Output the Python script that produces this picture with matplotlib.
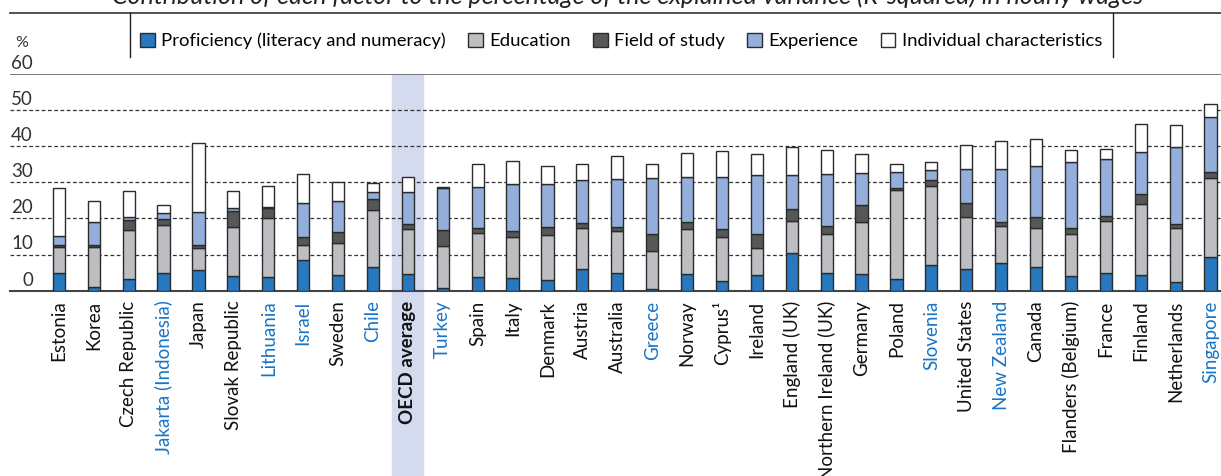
import numpy as np
import matplotlib
matplotlib.use("Agg")
import matplotlib.pyplot as plt
from matplotlib.lines import Line2D
from matplotlib.patches import Rectangle, Patch
import matplotlib.transforms as mtransforms

plt.rcParams['font.family'] = ['Lato', 'DejaVu Sans']

# data
countries = ["Estonia", "Korea", "Czech Republic", "Jakarta (Indonesia)", "Japan",
             "Slovak Republic", "Lithuania", "Israel", "Sweden", "Chile", "OECD average",
             "Turkey", "Spain", "Italy", "Denmark", "Austria", "Australia", "Greece",
             "Norway", "Cyprus¹", "Ireland", "England (UK)", "Northern Ireland (UK)",
             "Germany", "Poland", "Slovenia", "United States", "New Zealand", "Canada",
             "Flanders (Belgium)", "France", "Finland", "Netherlands", "Singapore"]
blue_labels = ["Jakarta (Indonesia)", "Lithuania", "Israel", "Chile", "Turkey", "Greece",
               "Slovenia", "New Zealand", "Singapore"]

proficiency = [4.8, 1.1, 3.2, 5.0, 5.6, 4.1, 3.9, 8.4, 4.3, 6.5, 4.5,
               0.8, 3.8, 3.4, 3.0, 5.9, 4.8, 0.6, 4.5, 2.7, 4.3, 10.4, 5.0,
               4.6, 3.2, 7.1, 6.0, 7.7, 6.5, 4.1, 5.0, 4.3, 2.5, 9.3]
education = [7.2, 11.1, 13.5, 13.2, 6.1, 13.6, 16.1, 4.2, 8.8, 15.8, 12.6,
             11.7, 12.1, 11.4, 12.3, 11.4, 11.6, 10.4, 12.5, 12.1, 7.4, 8.9, 10.8,
             14.4, 24.7, 21.9, 14.3, 10.3, 10.8, 11.6, 14.4, 19.8, 14.8, 22.0]
field_of_study = [0.6, 0.4, 2.9, 1.7, 0.9, 4.5, 3.0, 2.2, 3.1, 3.1, 1.5,
                  4.2, 1.4, 1.6, 2.2, 1.4, 1.1, 4.8, 2.0, 2.3, 3.9, 3.2, 2.2,
                  4.6, 0.4, 1.6, 4.0, 1.1, 3.0, 1.6, 1.4, 2.6, 1.2, 1.7]
experience = [2.5, 6.3, 0.7, 1.7, 9.1, 0.6, 0.2, 9.6, 8.5, 1.8, 8.7,
              11.6, 11.3, 13.1, 12.1, 11.9, 13.4, 15.3, 12.4, 14.5, 16.3, 9.5, 14.3,
              9.1, 4.6, 2.8, 9.3, 14.7, 14.2, 18.3, 15.7, 11.7, 21.2, 15.0]
individual = [13.2, 6.0, 7.2, 2.0, 19.3, 4.7, 5.9, 7.9, 5.5, 2.6, 4.3,
              0.3, 6.4, 6.4, 5.0, 4.4, 6.5, 3.9, 6.8, 7.2, 6.0, 7.7, 6.6,
              5.2, 2.2, 2.1, 6.8, 7.6, 7.4, 3.4, 2.7, 7.7, 6.3, 3.8]

series_names = ["Proficiency (literacy and numeracy)", "Education", "Field of study",
                "Experience", "Individual characteristics"]
series_colors = ["#2878c0", "#bdbec1", "#555759", "#94afdc", "#ffffff"]
yticks = [0, 10, 20, 30, 40, 50, 60]

W, H = 1221, 476
fig = plt.figure(figsize=(W / 100, H / 100), dpi=100)
ax = fig.add_axes([10 / W, (H - 290.7) / H, 1211 / W, 216.7 / H])

x = np.arange(len(countries))
bottom = np.zeros(len(countries))
for name, vals, col in zip(series_names,
                           [proficiency, education, field_of_study, experience, individual],
                           series_colors):
    ax.bar(x, vals, bottom=bottom, width=0.35, color=col, edgecolor="#2b2b2b",
           linewidth=1.0, zorder=3, label=name)
    bottom += np.array(vals)

ax.set_xlim(-1.40, 33.3)
ax.set_ylim(0, 60)

# OECD average highlight, runs down through the labels
oecd = countries.index("OECD average")
trans = mtransforms.blended_transform_factory(ax.transData, ax.transAxes)
ax.add_patch(Rectangle((oecd - 0.445, -0.86), 0.89, 1.86, transform=trans,
                       color="#d4dbef", zorder=0, clip_on=False))

# grid lines
for v in yticks[1:-1]:
    ax.axhline(v, color="#333333", lw=0.9, ls=(0, (3, 2)), zorder=1)
ax.axhline(60, color="#7a7a7a", lw=1.4, zorder=2)

for s in ["top", "left", "right"]:
    ax.spines[s].set_visible(False)
ax.spines["bottom"].set_color("#444444")
ax.spines["bottom"].set_linewidth(1.5)

# y labels sit on top of the grid lines
ax.set_yticks([])
ytrans = mtransforms.blended_transform_factory(ax.transAxes, ax.transData)
for v in yticks:
    ax.text(0.019, v + 0.6, str(v), transform=ytrans,
            ha="right", va="bottom", fontsize=13.5, color="#333333")

ax.set_xticks(x)
ax.set_xticklabels(countries, rotation=90, fontsize=13.5, va="top", ha="center")
ax.tick_params(axis="x", length=0, pad=7)
for lab in ax.get_xticklabels():
    t = lab.get_text()
    if t in blue_labels:
        lab.set_color("#1a74c4")
    elif t == "OECD average":
        lab.set_fontweight("bold")
        lab.set_color("#111111")
    else:
        lab.set_color("#111111")

# header: title, rule lines, legend box
fig.text(628 / W, 1 - 4 / H, "Contribution of each factor to the percentage of the explained "
         "variance (R-squared) in hourly wages", ha="center", va="baseline",
         fontsize=18, style="italic", color="#222222")
fig.add_artist(Line2D([10 / W, 1], [1 - 12.5 / H] * 2, color="#444444", lw=1.3))
for xp in [130, 1113]:
    fig.add_artist(Line2D([xp / W] * 2, [1 - 12.5 / H, 1 - 57 / H], color="#222222", lw=1.0))
fig.text(15 / W, 1 - 43 / H, "%", ha="left", va="center", fontsize=11.5, color="#333333")

handles = [Patch(facecolor=c, edgecolor="#2b2b2b", linewidth=1.0) for c in series_colors]
fig.legend(handles, series_names, loc="center", bbox_to_anchor=(621 / W, 1 - 41 / H),
           ncol=5, frameon=False, fontsize=13.3, handlelength=0.8, handleheight=0.8,
           handletextpad=0.35, columnspacing=1.2)

plt.savefig("out.png", dpi=100)
